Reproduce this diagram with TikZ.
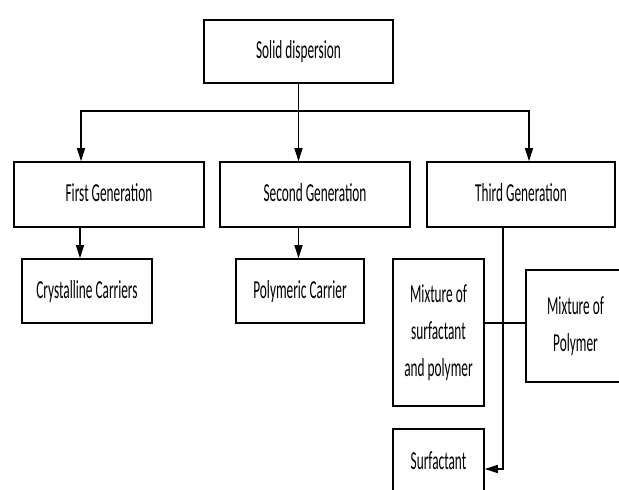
\documentclass[tikz,border=0pt]{standalone}
\usepackage{fontspec}
\setmainfont{Carlito}
\usetikzlibrary{arrows.meta}

\newcommand{\lbl}[1]{\scalebox{1}[1.95]{\begin{tabular}{@{}c@{}}#1\end{tabular}}}
\tikzset{box/.style={draw,line width=1.6pt,inner sep=0pt,
    font=\fontsize{13.3pt}{19pt}\selectfont},
  link/.style={line width=1.4pt},
  arr/.style={link,-{Triangle[length=13pt,width=8pt]}}}

\begin{document}
\begin{tikzpicture}[x=1pt,y=-1pt]
\useasboundingbox (0,0) rectangle (619,490);
\clip (0,0) rectangle (619,490);
\node[box,minimum width=189pt,minimum height=63pt] (sd) at (298.5,51.5) {\lbl{Solid dispersion}};
\node[box,minimum width=190pt,minimum height=65pt] (g1) at (109,194.5) {\lbl{First Generation}};
\node[box,minimum width=190pt,minimum height=65pt] (g2) at (315,194.5) {\lbl{Second Generation}};
\node[box,minimum width=188pt,minimum height=65pt] (g3) at (521,194.5) {\lbl{Third Generation}};
\node[box,minimum width=130pt,minimum height=64pt] (c1) at (87,291) {\lbl{Crystalline Carriers}};
\node[box,minimum width=128pt,minimum height=64pt] (c2) at (300,291) {\lbl{Polymeric Carrier}};
\node[box,minimum width=91pt,minimum height=147pt] (msp) at (438.5,332.5) {\lbl{Mixture of\\surfactant\\and polymer}};
\node[box,minimum width=99pt,minimum height=112pt] (mp) at (575.5,326) {\lbl{Mixture of\\Polymer}};
\node[box,minimum width=91pt,minimum height=66pt] (surf) at (438.5,462) {\lbl{Surfactant}};

% bus under the top box
\coordinate (b1) at (81,111);
\coordinate (b3) at (529,111);
\draw[arr] (sd.south) |- (b1) -- (b1 |- g1.north);
\draw[arr] (sd.south) |- (b3) -- (b3 |- g3.north);
\draw[arr] (sd.south) -- (sd.south |- g2.north);

\coordinate (a1) at (80,0);
\draw[arr] (a1 |- g1.south) -- (a1 |- c1.north);
\draw[arr] (sd.south |- g2.south) -- (sd.south |- c2.north);

% third generation branch
\coordinate (t1) at (503,469);
\coordinate (hx) at (503,323);
\draw[arr] (t1 |- g3.south) -- (t1) -- (surf.east |- t1);
\draw[link] (msp.east |- hx) -- (mp.west |- hx);
\end{tikzpicture}
\end{document}
